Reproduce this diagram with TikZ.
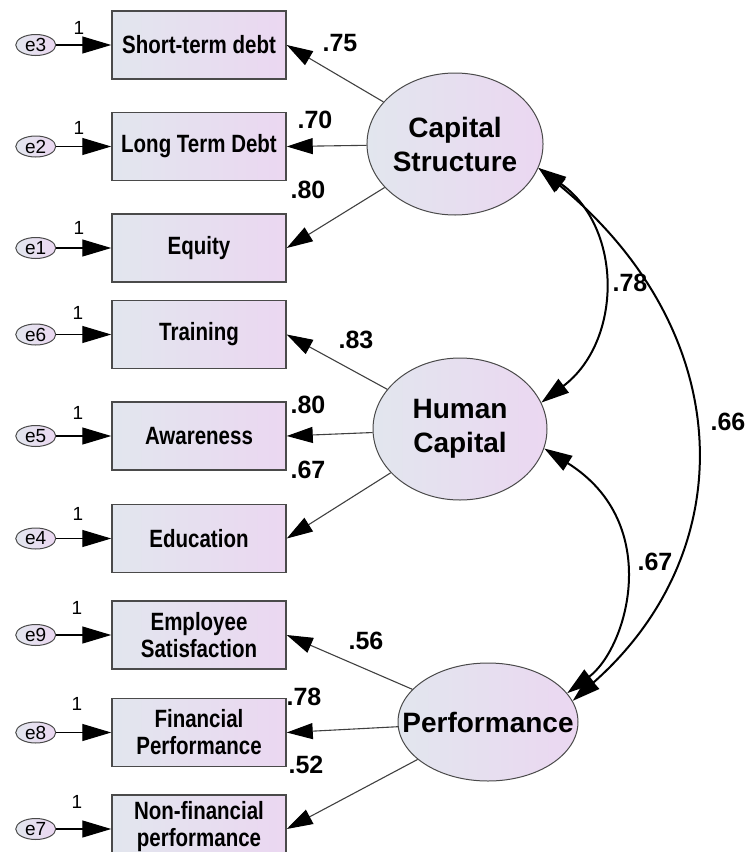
\documentclass[tikz,border=0pt]{standalone}
\usepackage{fontspec}
\setmainfont{Liberation Sans}
\newfontfamily\narrowsf{Liberation Sans}[FakeStretch=0.82]
\usepackage{tikz}
\usetikzlibrary{positioning,arrows.meta,shapes.geometric}

\definecolor{fillleft}{HTML}{E2E6EE}
\definecolor{fillright}{HTML}{EBD7F1}
\definecolor{edgegray}{HTML}{4A4A4A}

\tikzset{
  obs/.style={rectangle, draw=edgegray, line width=1.5pt, left color=fillleft, right color=fillright,
    minimum width=174pt, minimum height=68pt, inner sep=0pt, align=center,
    font=\narrowsf\bfseries\fontsize{25}{27}\selectfont},
  lat/.style={ellipse, draw=edgegray, line width=1pt, left color=fillleft, right color=fillright,
    inner sep=0pt, align=center, font=\bfseries\fontsize{28}{34}\selectfont},
  err/.style={ellipse, draw=edgegray, line width=1pt, left color=fillleft, right color=fillright,
    minimum width=40pt, minimum height=21pt, inner sep=0pt, font=\fontsize{19}{19}\selectfont},
  fix/.style={draw=black, line width=1.2pt, -{Triangle[length=29pt,width=17pt]}},
  load/.style={draw=black!75, line width=1.1pt, -{Triangle[length=26pt,width=16pt,color=black]}},
  cov/.style={draw=black, line width=2pt, {Triangle[length=28pt,width=17pt]}-{Triangle[length=28pt,width=17pt]}},
  coef/.style={font=\bfseries\fontsize{25}{25}\selectfont},
  one/.style={font=\fontsize{19}{19}\selectfont}
}

\begin{document}
\begin{tikzpicture}[x=1pt,y=-1pt]
\path[use as bounding box, clip] (0,0) rectangle (746,852);

% observed variables
\node[obs] (st) at (199,45) {Short-term debt};
\node[obs, below=32pt of st] (ltd) {Long Term Debt};
\node[obs, below=32pt of ltd] (eq) {Equity};
\node[obs, below=17pt of eq] (tr) {Training};
\node[obs, below=32pt of tr] (aw) {Awareness};
\node[obs, below=33pt of aw] (ed) {Education};
\node[obs, below=27pt of ed] (es) {Employee\\Satisfaction};
\node[obs, below=28pt of es] (fp) {Financial\\Performance};
\node[obs, below=27pt of fp, text depth=11pt] (nfp) {Non-financial\\performance};

% error terms
\node[err, left=55pt of st] (e3) {e3};
\node[err, left=55pt of ltd] (e2) {e2};
\node[err, left=55pt of eq] (e1) {e1};
\node[err, left=55pt of tr] (e6) {e6};
\node[err, left=55pt of aw] (e5) {e5};
\node[err, left=55pt of ed] (e4) {e4};
\node[err, left=55pt of es] (e9) {e9};
\node[err, left=55pt of fp] (e8) {e8};
\node[err, left=55pt of nfp] (e7) {e7};

% latent variables
\node[lat, minimum width=174pt, minimum height=142pt] (cs) at (455,144) {Capital\\Structure};
\node[lat, minimum width=174pt, minimum height=142pt] (hc) at (460,429) {Human\\Capital};
\node[lat, minimum width=180pt, minimum height=118pt] (pf) at (488,722) {\makebox[100pt]{Performance}};

% fixed weights
\draw[fix] (e3) -- (st);
\draw[fix] (e2) -- (ltd);
\draw[fix] (e1) -- (eq);
\draw[fix] (e6) -- (tr);
\draw[fix] (e5) -- (aw);
\draw[fix] (e4) -- (ed);
\draw[fix] (e9) -- (es);
\draw[fix] (e8) -- (fp);
\draw[fix] (e7) -- (nfp);
\node[one] (w3) at (79,28) {1};
\node[one] (w2) at (79,128) {1};
\node[one] (w1) at (79,228) {1};
\node[one] (w6) at (78,313) {1};
\node[one] (w5) at (78,413) {1};
\node[one] (w4) at (78,514) {1};
\node[one] (w9) at (77,608) {1};
\node[one] (w8) at (77,704) {1};
\node[one] (w7) at (77,802) {1};

% loadings
\draw[load] (cs) -- (st.east);
\draw[load] (cs) -- (ltd.east);
\draw[load] (cs) -- (eq.east);
\draw[load] (hc) -- (tr.east);
\draw[load] (hc) -- (aw.east);
\draw[load] (hc) -- (ed.east);
\draw[load] (pf) -- (es.east);
\draw[load] (pf) -- (fp.east);
\draw[load] (pf) -- (nfp.east);
\node[coef] (l1) at (340,43) {.75};
\node[coef] (l2) at (315,120) {.70};
\node[coef] (l3) at (308,190) {.80};
\node[coef] (l4) at (356,340) {.83};
\node[coef] (l5) at (308,405) {.80};
\node[coef] (l6) at (308,470) {.67};
\node[coef] (l7) at (366,641) {.56};
\node[coef] (l8) at (304,697) {.78};
\node[coef] (l9) at (306,765) {.52};

% correlations
\draw[cov] (cs.-16) .. controls +(85,60) and +(81,-61) .. (hc.18);
\draw[cov] (cs.-16) .. controls +(200,165) and +(170,-150) .. (pf.14);
\draw[cov] (hc.-13) .. controls +(120,75) and +(60,-45) .. (pf.20);
\node[coef] (r1) at (630,283) {.78};
\node[coef] (r2) at (728,422) {.66};
\node[coef] (r3) at (655,562) {.67};
\end{tikzpicture}
\end{document}
